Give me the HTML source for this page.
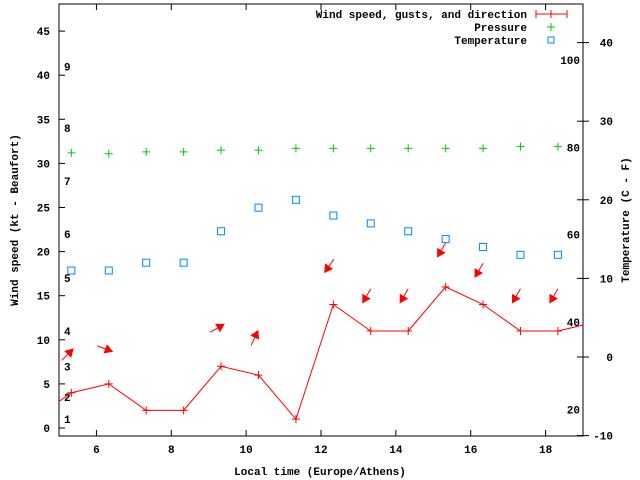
<!DOCTYPE html>
<html><head><meta charset="utf-8"><style>
html,body{margin:0;padding:0;background:#fff}
svg{display:block}
text{font-family:"Liberation Mono","DejaVu Sans Mono",monospace;font-weight:bold;font-size:11px;fill:#000}
</style></head><body>
<svg id="chart" width="640" height="480" viewBox="0 0 640 480" xmlns="http://www.w3.org/2000/svg">
<g id="axes"></g>
<g id="marks"></g>
<g id="legend">
  <text x="527" y="18" text-anchor="end">Wind speed, gusts, and direction</text>
  <line x1="536" y1="14" x2="567" y2="14" stroke="#f00" stroke-width="1"/>
  <line x1="536" y1="10" x2="536" y2="18" stroke="#f00"/>
  <line x1="567" y1="10" x2="567" y2="18" stroke="#f00"/>
  <line x1="551" y1="10" x2="551" y2="18" stroke="#f00"/>
  <text x="527" y="31" text-anchor="end">Pressure</text>
  <path d="M547,27h8M551,23v8" stroke="#0c0" fill="none"/>
  <text x="527" y="44" text-anchor="end">Temperature</text>
  <rect x="548" y="37" width="6" height="6" fill="none" stroke="#08f"/>
</g>
</svg>
<script>
const times = [5.33,6.33,7.33,8.33,9.33,10.33,11.33,12.33,13.33,14.33,15.33,16.33,17.33,18.33];
const windSpeed = [4,5,2,2,7,6,1,14,11,11,16,14,11,11];
const windBefore = [4.33, 1];
const windAfter = [19.33, 12];
const gusts = [8.3,9,null,null,11.3,10.2,null,18.4,15,15,20.2,17.9,15,15];
const windDir = [225,290,null,null,240,205,null,35,30,30,30,30,30,30];
const pressure = [31.2,31.1,31.3,31.3,31.5,31.5,31.7,31.7,31.7,31.7,31.7,31.7,31.9,31.9];
const temperature = [11,11,12,12,16,19,20,18,17,16,15,14,13,13];
const xTicks = [6,8,10,12,14,16,18];
const yTicks = [0,5,10,15,20,25,30,35,40,45];
const y2Ticks = [-10,0,10,20,30,40];
const beaufort = [1,2,3,4,5,6,7,8,9];
const beaufortKt = [1,3.5,7,11,17,22,28,34,41];
const fahrenheit = [20,40,60,80,100];

const L=59,R=583,T=4,B=436;
const X=v=>L+(v-5)/(19-5)*(R-L);
const Y=v=>428-v*8.82;
const Y2=v=>357-v*7.86;
const NS='http://www.w3.org/2000/svg';
const axes=document.getElementById('axes'), marks=document.getElementById('marks');
function mk(tag,attrs,parent){const e=document.createElementNS(NS,tag);for(const k in attrs)e.setAttribute(k,attrs[k]);parent.appendChild(e);return e;}

const frame=mk('rect',{x:L,y:T,width:R-L,height:B-T,fill:'none',stroke:'#000'},axes);



xTicks.forEach(t=>{
  const x=X(t);
  mk('line',{x1:x,y1:B,x2:x,y2:B-6,stroke:'#000'},axes);
  mk('line',{x1:x,y1:T,x2:x,y2:T+6,stroke:'#000'},axes);
  const tx=mk('text',{x:x,y:B+17,'text-anchor':'middle'},axes);tx.textContent=t;
  
  
});
yTicks.forEach(t=>{
  const y=Y(t);
  mk('line',{x1:L,y1:y,x2:L+6,y2:y,stroke:'#000'},axes);
  const tx=mk('text',{x:L-9,y:y+4,'text-anchor':'end'},axes);tx.textContent=t;
  
  
});
y2Ticks.forEach(t=>{
  const y=Y2(t);
  mk('line',{x1:R,y1:y,x2:R-6,y2:y,stroke:'#000'},axes);
  mk('line',{x1:R,y1:y,x2:R+6,y2:y,stroke:'#000'},axes);
  const tx=mk('text',{x:R+30,y:y+4,'text-anchor':'end'},axes);tx.textContent=t;
  
  
});
beaufort.forEach((b,i)=>{
  const tx=mk('text',{x:64,y:Y(beaufortKt[i])+4},axes);tx.textContent=b;
  
  
});
fahrenheit.forEach(f=>{
  const c=(f-32)*5/9;
  const tx=mk('text',{x:580,y:Y2(c)+4,'text-anchor':'end'},axes);tx.textContent=f;
  
  
});
let t1=mk('text',{x:320,y:475,'text-anchor':'middle'},axes);t1.textContent='Local time (Europe/Athens)';


let t2=mk('text',{x:0,y:0,'text-anchor':'middle',transform:'translate(18,220) rotate(-90)'},axes);t2.textContent='Wind speed (kt - Beaufort)';


let t3=mk('text',{x:0,y:0,'text-anchor':'middle',transform:'translate(629,220) rotate(-90)'},axes);t3.textContent='Temperature (C - F)';



const defs=mk('defs',{},marks);
const cp=mk('clipPath',{id:'clip'},defs);
mk('rect',{x:L,y:T,width:R-L,height:B-T},cp);
const g=mk('g',{'clip-path':'url(#clip)'},marks);

const pts=[[windBefore[0],windBefore[1]]].concat(times.map((t,i)=>[t,windSpeed[i]])).concat([[windAfter[0],windAfter[1]]]);
const pl=mk('polyline',{points:pts.map(p=>X(p[0])+','+Y(p[1])).join(' '),fill:'none',stroke:'#f00'},g);


times.forEach((t,i)=>{
  const x=X(t),y=Y(windSpeed[i]);
  const p=mk('path',{d:`M${x-4},${y}h8M${x},${y-4}v8`,stroke:'#f00',fill:'none'},g);
  
  
});
times.forEach((t,i)=>{
  if(gusts[i]==null)return;
  const a=(windDir[i]+180)*Math.PI/180;
  const dx=Math.sin(a)*8, dy=-Math.cos(a)*8;
  const cx=X(t)-4, cy=Y(gusts[i]);
  const x1=cx-dx,y1=cy-dy,x2=cx+dx,y2=cy+dy;
  const ux=dx/8,uy=dy/8;
  const hx=x2-ux*7,hy=y2-uy*7;
  const ar=mk('g',{},g);
  
  
  mk('line',{x1:x1,y1:y1,x2:x2,y2:y2,stroke:'#f00'},ar);
  mk('polygon',{points:`${x2},${y2} ${hx-uy*4},${hy+ux*4} ${hx+uy*4},${hy-ux*4}`,fill:'#f00',stroke:'#f00'},ar);
});
times.forEach((t,i)=>{
  const x=X(t),y=Y(pressure[i]);
  const p=mk('path',{d:`M${x-4},${y}h8M${x},${y-4}v8`,stroke:'#0c0',fill:'none'},g);
  
  
});
times.forEach((t,i)=>{
  const x=X(t),y=Y2(temperature[i]);
  const r=mk('rect',{x:x-3.5,y:y-3.5,width:7,height:7,fill:'none',stroke:'#08f'},g);
  
  
});
</script>
</body></html>
